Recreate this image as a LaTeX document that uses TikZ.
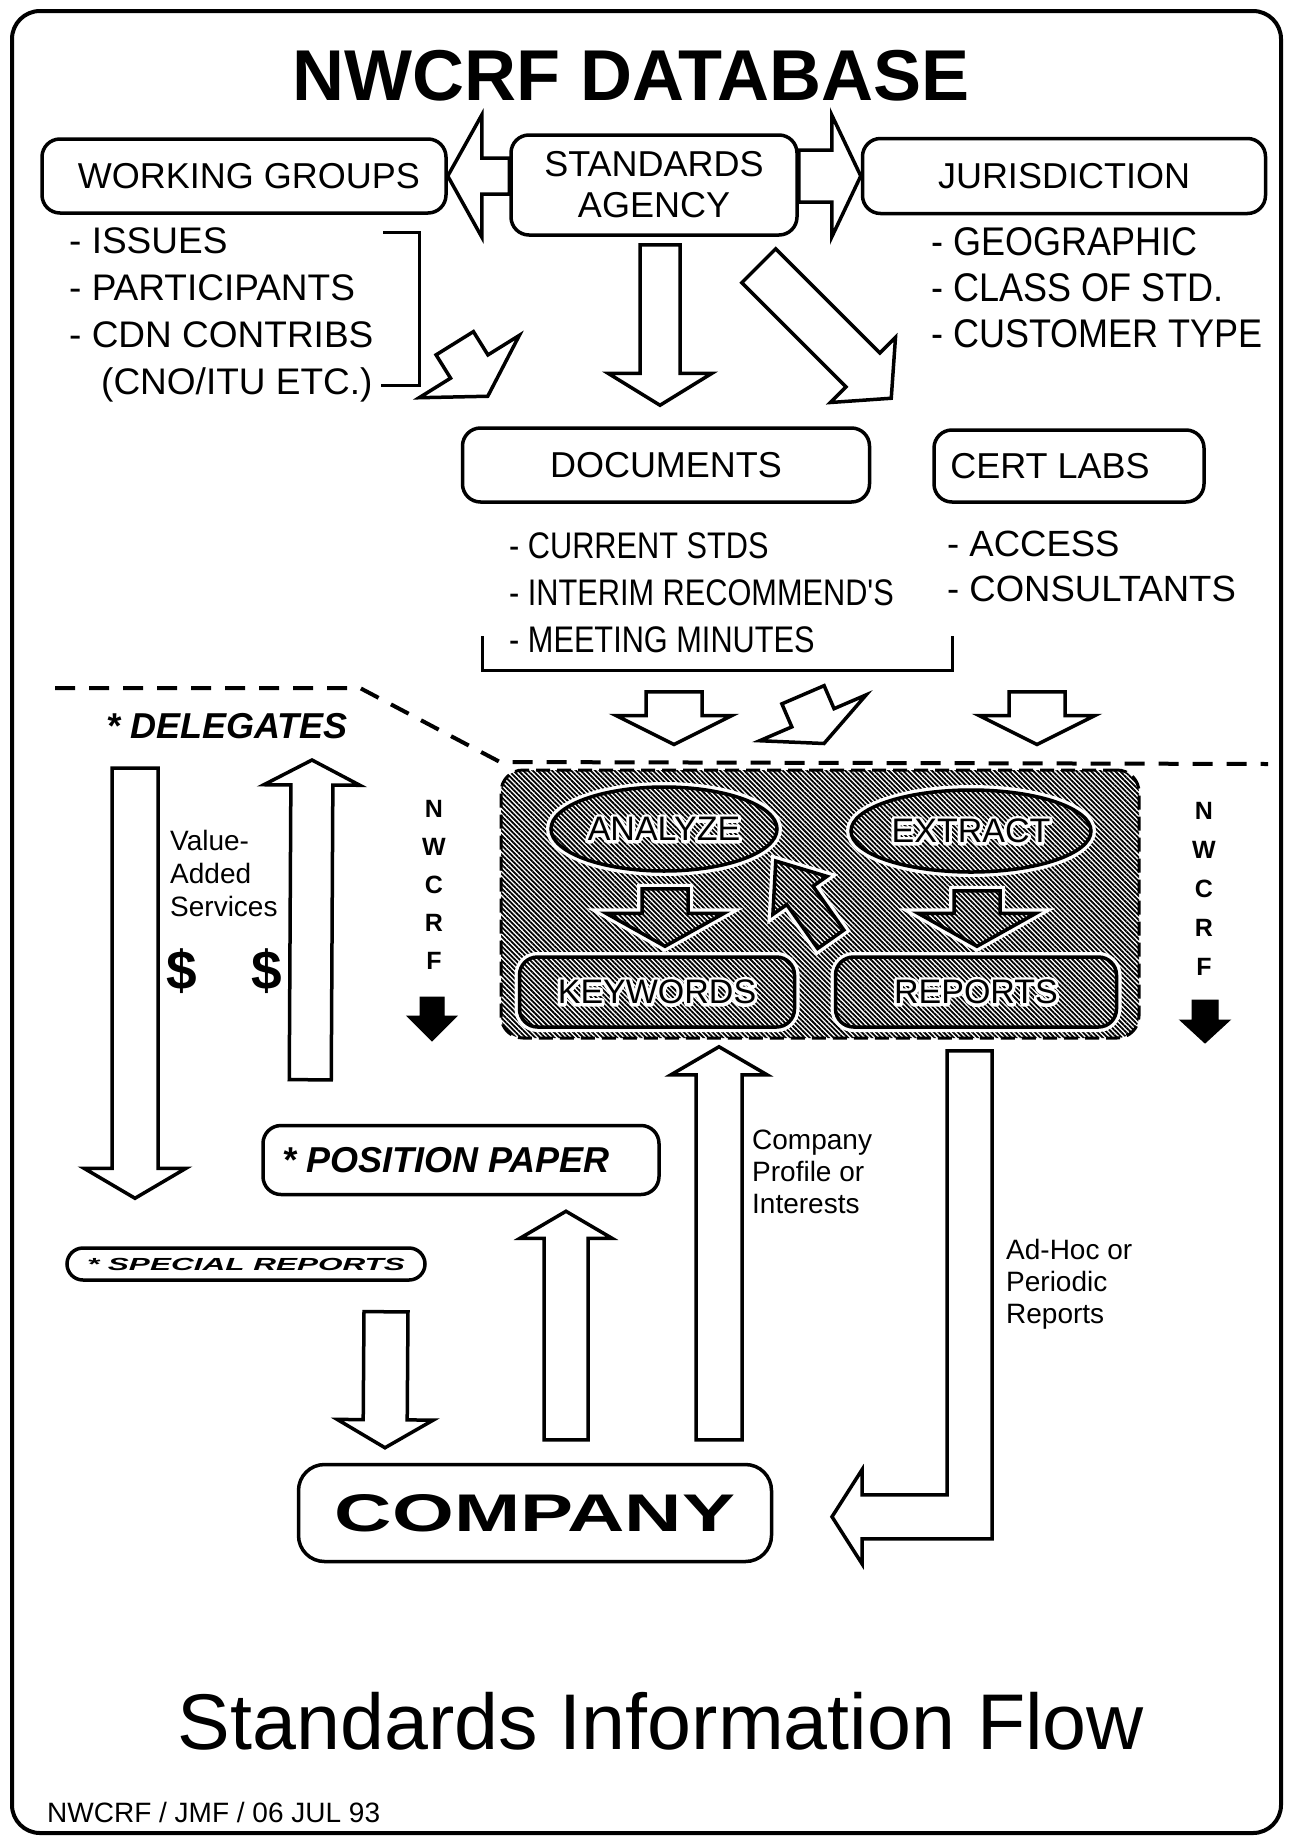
\documentclass[tikz,border=0pt]{standalone}
\usepackage{fontspec}
\setmainfont{Liberation Sans}
\setsansfont{Liberation Sans}
\newfontfamily\narrowA[FakeStretch=0.9]{Liberation Sans}
\newfontfamily\narrowB[FakeStretch=0.83]{Liberation Sans}
\newfontfamily\widefont[FakeStretch=1.5]{Liberation Sans}
\newfontfamily\xwidefont[FakeStretch=1.8]{Liberation Sans}
\usepackage{tikz}
\usetikzlibrary{calc,shapes.geometric,patterns.meta}

\newcommand{\fsz}[2]{\fontsize{#1}{#2}\selectfont}
% white outline behind a label on the hatching
\newcommand{\halo}[1]{\leavevmode\rlap{\special{pdf:literal direct 1 Tr 6 w 1 j 1 1 1 RG}#1\special{pdf:literal direct 0 Tr 0 0 0 RG}}#1}
% [style]{tail}{tip}{shaft half width}{head half width}{head length}
\newcommand{\fatarrow}[6][hollow]{%
  \coordinate (fa-a) at #2;
  \coordinate (fa-b) at #3;
  \coordinate (fa-h) at ($(fa-b)!#6pt!(fa-a)$);
  \draw[#1] ($(fa-a)!#4pt!90:(fa-b)$) -- ($(fa-h)!#4pt!90:(fa-b)$) -- ($(fa-h)!#5pt!90:(fa-b)$)
    -- (fa-b) -- ($(fa-h)!#5pt!-90:(fa-b)$) -- ($(fa-h)!#4pt!-90:(fa-b)$) -- ($(fa-a)!#4pt!-90:(fa-b)$) -- cycle;}

\begin{document}
\begin{tikzpicture}[x=1pt,y=-1pt,
  roundbox/.style={draw, fill=white, line width=3.5pt, rounded corners=18pt, inner sep=0pt, font=\fsz{36}{41}},
  listtext/.style={inner sep=0pt, anchor=north west, align=left},
  hollow/.style={draw, fill=white, line width=3.5pt},
  hatch/.style={pattern={Lines[angle=-45,distance=3.4pt,line width=1.8pt]}},
  inbox/.style={hatch, draw, line width=3.5pt, preaction={draw=white, fill=white, line width=10pt}},
  solidarrow/.style={draw, fill=black, line width=1pt},
  letter/.style={font=\bfseries\fsz{25}{30}, inner sep=0pt}]
\useasboundingbox (0,0) rectangle (1288,1839);
\draw[line width=4pt, rounded corners=28pt] (12,11) rectangle (1281,1833);

\node[font=\bfseries\fsz{72}{80}] (title) at (631,76) {NWCRF DATABASE};

\node[roundbox, minimum width=404pt, minimum height=74pt] (wg) at (244,176) {WORKING GROUPS\hspace*{-10pt}};
\node[roundbox, minimum width=286pt, minimum height=100pt, align=center] (sa) at (654,185) {STANDARDS\\AGENCY};
\node[roundbox, minimum width=403pt, minimum height=75pt] (jur) at (1064,176) {JURISDICTION};
\node[roundbox, minimum width=407pt, minimum height=74pt] (docs) at (666,465) {DOCUMENTS};
\node[roundbox, minimum width=270pt, minimum height=72pt] (cert) at (1069,466) {CERT LABS\hspace*{38pt}};

\node[listtext, font=\fsz{37}{47}] (wglist) at (69,227) {- ISSUES\\- PARTICIPANTS\\- CDN CONTRIBS\\\hspace*{32pt}(CNO/ITU ETC.)};
\node[listtext, font=\narrowA\fsz{40}{46}] (jurlist) at (931,227) {- GEOGRAPHIC\\- CLASS OF STD.\\- CUSTOMER TYPE};
\node[listtext, font=\narrowB\fsz{37}{47}] (doclist) at (509,532) {- CURRENT STDS\\- INTERIM RECOMMEND'S\\- MEETING MINUTES};
\node[listtext, font=\fsz{36.5}{45}] (certlist) at (947,531) {- ACCESS\\- CONSULTANTS};

\draw[line width=3pt] (383,232) -- (419,232) -- (419,385) -- (381,385);
\draw[line width=3pt] (482,636) -- (482,670) -- (952,670) -- (952,636);

\fatarrow{(sa.west |- wg.east)}{(wg.east)}{18}{61}{34}
\fatarrow{(sa.east |- jur.west)}{(jur.west)}{26}{61}{29}
\fatarrow{($(sa.south)+(6,8)$)}{($(docs.north)+(-6,-21)$)}{20}{52}{32}
\fatarrow{($(sa.south east)+(-40,29)$)}{($(cert.north west)+(-41,-30)$)}{24}{46}{40}
\fatarrow{($(docs.north west)+(-6,-83)$)}{($(docs.north west)+(27,-30)$)}{22}{59}{35}

\draw[line width=4pt, dash pattern=on 20pt off 14pt] (55,688) -- (360,688) -- (500,762) -- (1268,764);

\node[draw, hatch, line width=3pt, dash pattern=on 14pt off 7pt, rounded corners=22pt,
  minimum width=638pt, minimum height=268pt, inner sep=0pt] (core) at (820,904) {};

\fatarrow{($(docs.south)+(8,188)$)}{($(core.north)+(-146,-24)$)}{28}{58}{29}
\fatarrow{($(docs.south)+(137,191)$)}{($(core.north)+(4,-25)$)}{23}{58}{28}
\fatarrow{($(cert.south)+(-32,188)$)}{($(core.north)+(217,-24)$)}{28}{58}{29}

\node[inbox, ellipse, minimum width=226pt, minimum height=84pt, inner sep=0pt, font=\fsz{34}{40}] (an) at (664,829) {\halo{ANALYZE}};
\node[inbox, ellipse, minimum width=240pt, minimum height=82pt, inner sep=0pt, font=\fsz{34}{40}] (ex) at (971,831) {\halo{EXTRACT}};
\node[inbox, rounded corners=18pt, minimum width=275pt, minimum height=70pt, inner sep=0pt, font=\fsz{34}{40}] (kw) at (657,992) {\halo{KEYWORDS}};
\node[inbox, rounded corners=18pt, minimum width=281pt, minimum height=70pt, inner sep=0pt, font=\fsz{34}{40}] (rep) at (976,992) {\halo{REPORTS}};

\fatarrow[inbox]{($(an.south)+(1,16)$)}{($(kw.north)+(8,-9)$)}{23}{59}{33}
\fatarrow[inbox]{($(ex.south)+(6,17)$)}{($(rep.north)+(1,-9)$)}{23}{59}{33}
\fatarrow[inbox]{($(rep.north west)+(-3,-16)$)}{($(an.east)+(-3,32)$)}{16}{33}{42}

\foreach \ch [count=\i] in {N,W,C,R,F} {
  \node[letter] (nl\i) at (434,771+38*\i) {\ch};
  \node[letter] (nr\i) at (1204,772+39*\i) {\ch};
}
\fatarrow[solidarrow]{($(nl5)+(-2,36)$)}{($(nl5)+(-2,80)$)}{12}{25}{25}
\fatarrow[solidarrow]{($(nr5)+(1,33)$)}{($(nr5)+(1,76)$)}{13}{25}{23}

\node[font=\bfseries\itshape\fsz{36}{40}] (del) at (227,726) {* DELEGATES};
\node[listtext, font=\fsz{28}{33}] (vas) at (170,830) {Value-\\Added\\Services};
\node[font=\bfseries\fsz{55}{60}] (d1) at (182,971) {\$};
\node[font=\bfseries\fsz{55}{60}] (d2) at (267,971) {\$};

\node[roundbox, minimum width=396pt, minimum height=69pt, font=\bfseries\itshape\fsz{36}{40}] (pos) at (461,1160) {* POSITION PAPER\hspace*{30pt}};
\node[roundbox, rounded corners=16pt, minimum width=358pt, minimum height=32pt, font=\xwidefont\bfseries\itshape\fsz{17.5}{20}] (spec) at (246,1264) {* SPECIAL REPORTS};
\node[roundbox, rounded corners=26pt, minimum width=473pt, minimum height=97pt, font=\widefont\bfseries\fsz{53}{60}] (comp) at (535,1513) {COMPANY};

\fatarrow{($(del.center)+(-92,42)$)}{($(spec.north)+(-111,-48)$)}{23}{51}{30}
\fatarrow{($(pos.north west)+(49,-44)$)}{($(del.center)+(85,34)$)}{21}{48}{25}
\fatarrow{($(comp.north)+(31,-23)$)}{($(pos.south)+(105,15)$)}{22}{46}{27}
\fatarrow{($(spec.south)+(140,30)$)}{($(comp.north)+(-150,-15)$)}{22}{48}{28}
\fatarrow{($(comp.north)+(184,-23)$)}{($(kw.south)+(62,18)$)}{23}{48}{28}
\draw[hollow] ($(rep.south)+(-29,22)$) -- ++(45,0) -- ++(0,488) -- ++(-130,0) -- ++(0,25)
  -- ++(-30,-47) -- ++(30,-47) -- ++(0,25) -- ++(85,0) -- cycle;

\node[listtext, font=\fsz{28}{32}] (cpi) at (752,1130) {Company\\Profile or\\Interests};
\node[listtext, font=\fsz{28}{32}] (ahp) at (1006,1239) {Ad-Hoc or\\Periodic\\Reports};

\node[font=\fsz{79}{90}] (flow) at (661,1721) {Standards Information Flow};
\node[anchor=west, inner sep=0pt, font=\fsz{28}{32}] (sig) at (47,1812) {NWCRF / JMF / 06 JUL 93};
\end{tikzpicture}
\end{document}
